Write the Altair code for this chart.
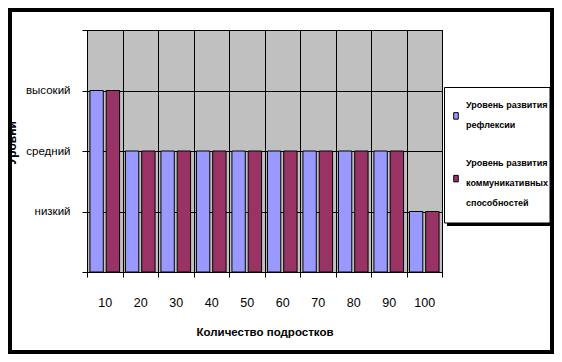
import json
import altair as alt
import pandas as pd

# ---- data ----
counts = ["10", "20", "30", "40", "50", "60", "70", "80", "90", "100"]
reflection = [3, 2, 2, 2, 2, 2, 2, 2, 2, 1]
communication = [3, 2, 2, 2, 2, 2, 2, 2, 2, 1]
series = ["Уровень развития\nрефлексии",
          "Уровень развития\nкоммуникативных\nспособностей"]
colors = ["#9999FF", "#993366"]
level_ticks = [0, 1, 2, 3, 4]
level_labels = ["", "низкий", "средний", "высокий", ""]
x_title = "Количество подростков"
y_title = "Уровни"

rows = []
for i, c in enumerate(counts):
    rows.append({"count": c, "series": series[0], "value": reflection[i]})
    rows.append({"count": c, "series": series[1], "value": communication[i]})
df = pd.DataFrame(rows)

FONT = "Liberation Sans, Arial, sans-serif"

W, H = 355, 242
PL, PT, PR, PB = 79, 22, 112, 82

x_enc = alt.X("count:N", sort=counts,
              scale=alt.Scale(paddingInner=0, paddingOuter=0),
              axis=alt.Axis(title=x_title, labelAngle=0, tickBand="extent",
                            grid=True, gridColor="black", gridOpacity=1, gridWidth=1,
                            domainColor="black", tickColor="black", tickSize=5,
                            labelPadding=19, labelFontSize=12.5, labelColor="black",
                            titleFontSize=11.5, titleFontWeight="bold", titlePadding=18,
                            titleColor="black"))
xo_enc = alt.XOffset("series:N", sort=series,
                     scale=alt.Scale(domain=series, paddingInner=0.18, paddingOuter=0.18))
y_enc = alt.Y("value:Q", scale=alt.Scale(domain=[0, 4], nice=False),
              axis=alt.Axis(title=None, values=level_ticks,
                            labelExpr=json.dumps(level_labels) + "[datum.value]",
                            grid=True, gridColor="black", gridOpacity=1, gridWidth=1,
                            domainColor="black", tickColor="black", tickSize=5,
                            labelPadding=12, labelFontSize=11.5, labelColor="black"))

sym_paths = ["M-0.35,1.18H0.35V2.18H-0.35Z",
             "M-0.35,1.9H0.35V2.9H-0.35Z"]
legend_y = [68, 126]


def series_layer(k):
    return alt.Chart(df).transform_filter(
        alt.datum.series == series[k]
    ).mark_bar(stroke="black", strokeWidth=1).encode(
        x=x_enc, xOffset=xo_enc, y=y_enc,
        color=alt.Color("series:N",
                        scale=alt.Scale(domain=[series[k]], range=[colors[k]]),
                        legend=alt.Legend(title=None, orient="none",
                                          legendX=362, legendY=legend_y[k],
                                          padding=0,
                                          symbolType=sym_paths[k],
                                          symbolSize=169, symbolStrokeColor="black",
                                          symbolStrokeWidth=1, symbolOpacity=1,
                                          labelExpr="split(datum.label, '\\n')",
                                          labelFontSize=9, labelFontWeight="bold",
                                          labelColor="black", labelOffset=3,
                                          labelBaseline="middle", labelLimit=200)),
    )


bars1 = series_layer(0)
bars2 = series_layer(1)

one = pd.DataFrame({"t": [y_title]})

ytitle = alt.Chart(one).mark_text(
    angle=270, fontSize=12, fontWeight="bold", font=FONT, color="black"
).encode(text="t:N", x=alt.value(-75), y=alt.value(113))

shadow = alt.Chart(one).mark_rect(fill="black").encode(
    x=alt.value(360), x2=alt.value(466), y=alt.value(60), y2=alt.value(196))
box = alt.Chart(one).mark_rect(fill="white", stroke="black", strokeWidth=1).encode(
    x=alt.value(357.5), x2=alt.value(463), y=alt.value(57.5), y2=alt.value(193))

frame = alt.Chart(one).mark_rect(
    fillOpacity=0, stroke="black", strokeWidth=4
).encode(x=alt.value(-PL + 2), x2=alt.value(W + PR - 2),
         y=alt.value(-PT + 2), y2=alt.value(H + PB - 2))

chart = alt.layer(bars1, bars2, shadow, box, ytitle, frame).resolve_scale(
    color="independent"
).properties(
    width=W, height=H,
    padding={"left": PL, "top": PT, "right": PR, "bottom": PB},
    autosize="none",
    background="white",
).configure(
    style={"guide-label": {"lineHeight": 20}}
).configure_view(
    fill="#C0C0C0", stroke="black", strokeWidth=1
).configure_axis(
    labelFont=FONT, titleFont=FONT
).configure_legend(
    labelFont=FONT
)

chart.save("out.html", embed_options={"renderer": "svg", "actions": False})
